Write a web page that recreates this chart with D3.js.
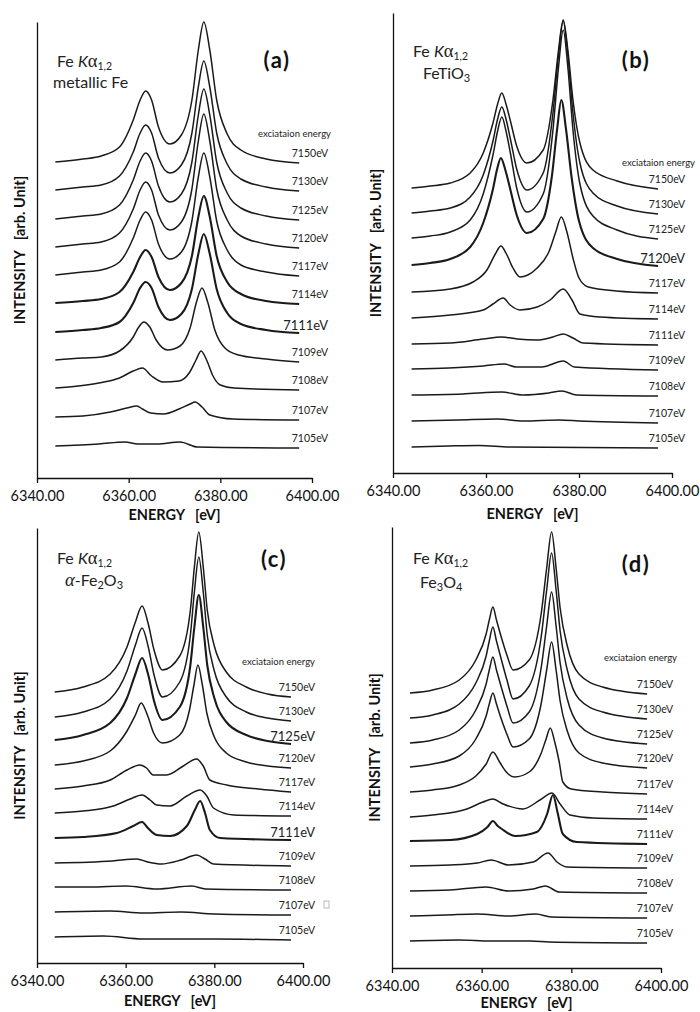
<!DOCTYPE html>
<html>
<head>
<meta charset="utf-8">
<script src="https://cdn.jsdelivr.net/npm/d3@7"></script>
<style>
	body { margin: 0; background: #fff; }
	svg { display: block; font-family: Lato, 'Noto Sans', sans-serif; }
	text { white-space: pre; }
</style>
</head>
<body>
<script>
// Excitation energies, top curve first
const excitation = ['7150eV', '7130eV', '7125eV', '7120eV', '7117eV', '7114eV', '7111eV', '7109eV', '7108eV', '7107eV', '7105eV']

// Emission energy axis
const energyDomain = [6340, 6400]
const energyTicks = [6340, 6360, 6380, 6400]

// Baseline of each curve (arb. units, same order as excitation)
const offsetsA = [316, 288, 259, 231, 203, 175, 146, 118, 90, 61, 32]
const offsetsB = [285, 260, 235, 208, 181, 155, 129, 104, 78, 52, 26]
const offsetsC = [271, 246, 223, 198, 174, 150, 125, 100, 76, 51, 26]
const offsetsD = [275, 250, 225, 201, 176, 151, 127, 102, 77, 52, 27]

// Spectra: [energy eV, intensity above baseline]
// (a) metallic Fe
const spectraA = [
	[[6344,0],[6350,3],[6354,6],[6358,15],[6361,42],[6362.5,62],[6363.7,71],[6365,62],[6366.5,35],[6369,18],[6371.5,27],[6373.8,62],[6375.2,112],[6376.4,140],[6377.7,112],[6379.2,62],[6381.5,28],[6384.5,12],[6390,3],[6397.2,-1]],
	[[6344,0],[6350,3],[6354,5],[6358,14],[6361,38],[6362.5,57],[6363.7,65],[6365,57],[6366.5,32],[6369,17],[6371.5,25],[6373.8,57],[6375.2,103],[6376.4,129],[6377.7,103],[6379.2,57],[6381.5,26],[6384.5,11],[6390,3],[6397.2,-1]],
	[[6344,0],[6350,3],[6354,5],[6358,14],[6361,39],[6362.5,58],[6363.7,66],[6365,58],[6366.5,33],[6369,17],[6371.5,25],[6373.8,57],[6375.2,104],[6376.4,130],[6377.7,104],[6379.2,57],[6381.5,26],[6384.5,11],[6390,3],[6397.2,-1]],
	[[6344,0],[6350,3],[6354,5],[6358,14],[6361,38],[6362.5,57],[6363.7,65],[6365,57],[6366.5,32],[6369,17],[6371.5,25],[6373.8,58],[6375.2,106],[6376.4,133],[6377.7,106],[6379.2,58],[6381.5,27],[6384.5,11],[6390,3],[6397.2,-1]],
	[[6344,0],[6350,3],[6354,5],[6358,13],[6361,37],[6362.5,55],[6363.7,63],[6365,55],[6366.5,31],[6369,16],[6371.5,23],[6373.8,54],[6375.2,98],[6376.4,122],[6377.7,98],[6379.2,54],[6381.5,25],[6384.5,10],[6390,3],[6397.2,-1]],
	[[6344,0],[6350,2],[6354,4],[6358,11],[6361,31],[6362.5,46],[6363.7,53],[6365,46],[6366.5,26],[6369,13],[6371.5,20],[6373.8,47],[6375.2,86],[6376.4,107],[6377.7,86],[6379.2,47],[6381.5,21],[6384.5,9],[6390,2],[6397.2,-1]],
	[[6344,0],[6350,2],[6354,4],[6358,10],[6361,29],[6362.5,44],[6363.7,50],[6365,44],[6366.5,25],[6369,12],[6371.5,18],[6373.8,43],[6375.2,78],[6376.4,98],[6377.7,78],[6379.2,43],[6381.5,19],[6384.5,8],[6390,2],[6397.2,-1]],
	[[6344,0],[6350,2],[6354,3],[6358,9],[6361,23],[6362.2,33],[6363.3,38],[6364.6,33],[6366,20],[6368.5,10],[6371.2,14],[6373.4,32],[6374.8,58],[6376,72],[6377.3,57],[6378.8,30],[6381,12],[6384,5],[6390,1],[6397.2,-2]],
	[[6344,0],[6349,2],[6353.5,5],[6358,10],[6361,17],[6363,20],[6365,12],[6367.5,6],[6371,7],[6373.2,15],[6374.7,28],[6375.8,37],[6377,28],[6378.4,12],[6380,3],[6383,0],[6397.2,-2]],
	[[6344,0],[6350,1],[6356,5],[6359.6,9],[6361.8,11],[6363,8],[6364.8,4],[6367.6,3],[6371,8],[6373.4,13],[6374.5,15],[6376,10],[6377.7,2],[6382.8,-2],[6397.2,-3]],
	[[6344,0],[6353.5,2],[6359.2,4],[6362,2],[6366.2,2],[6371.2,4],[6375,-1],[6397.2,-2]]
]

// (b) FeTiO3
const spectraB = [
	[[6344,0],[6348,2],[6352.3,5],[6356.6,15],[6359.4,35],[6361.5,65],[6362.5,84],[6363.4,95],[6364.3,84],[6365.2,68],[6366.6,42],[6368.8,25],[6372.3,38],[6374.4,88],[6375.6,138],[6376.6,168],[6377.6,138],[6378.7,88],[6380.2,45],[6383,18],[6388.2,7],[6397,-1]],
	[[6344,0],[6348,2],[6352.3,5],[6356.6,16],[6359.4,38],[6361.5,72],[6362.5,94],[6363.4,106],[6364.3,94],[6365.2,75],[6366.6,44],[6368.8,23],[6372.3,40],[6374.4,100],[6375.6,158],[6376.6,192],[6377.6,158],[6378.7,100],[6380.2,50],[6383,20],[6388.2,7],[6397,-1]],
	[[6344,0],[6348,2],[6352.3,6],[6356.6,18],[6359.4,44],[6361.5,83],[6362.5,107],[6363.4,121],[6364.3,107],[6365.2,86],[6366.6,50],[6368.8,26],[6372.3,44],[6374.4,108],[6375.6,171],[6376.6,208],[6377.6,171],[6378.7,108],[6380.2,54],[6383,22],[6388.2,8],[6397,-1]],
	[[6344,0],[6348,2],[6352.3,6],[6356.6,18],[6359.4,42],[6361.5,76],[6362.4,96],[6363.2,107],[6364.1,96],[6365.1,78],[6366.6,50],[6368.8,32],[6372.3,46],[6374.2,90],[6375.3,136],[6376.2,165],[6377.2,136],[6378.4,88],[6380,44],[6383,17],[6388.2,6],[6397,-1]],
	[[6344,0],[6352.3,3],[6357.2,10],[6360.2,22],[6362,38],[6363.2,46],[6364.4,38],[6365.8,24],[6367.3,15],[6369,17],[6371,24],[6373.5,40],[6375,60],[6376.2,75],[6377.4,60],[6378.7,34],[6380,14],[6382,5],[6388,1],[6397,-1]],
	[[6344,0],[6352.3,3],[6359.4,8],[6361.5,14],[6363.7,20],[6365.2,13],[6367.3,8],[6371,11],[6373.8,18],[6376.6,29],[6378.5,18],[6380.2,4],[6384.5,1],[6397,-1]],
	[[6344,0],[6352.3,1],[6359.4,5],[6363.4,7],[6366.7,5],[6371,4],[6374.4,7],[6376.6,10],[6378.7,6],[6380.9,1],[6397,-1]],
	[[6344,0],[6352,1],[6359.4,3],[6363.9,5],[6366.5,2],[6372,2],[6376.6,8],[6379,2],[6397,-1]],
	[[6344,0],[6355,1],[6363.4,3],[6368,0],[6373.5,2],[6376.3,4],[6379.5,0],[6397,-1]],
	[[6344,0],[6354,1],[6362.4,2],[6368,0],[6375.8,1],[6380,0],[6397,-2]],
	[[6344,0],[6352,1],[6358.5,1.5],[6365,0],[6397,-1]]
]

// (c) alpha-Fe2O3
const spectraC = [
	[[6344,0],[6350.4,5],[6356.5,18],[6360.3,45],[6362.2,70],[6363.7,86],[6365.1,68],[6366.4,42],[6368.3,22],[6372.2,36],[6374.6,82],[6375.5,125],[6376.5,160],[6377.5,125],[6378.4,82],[6380,46],[6382.7,20],[6387.2,5],[6392,-2],[6397.3,-5]],
	[[6344,0],[6350.4,5],[6356.5,18],[6360.3,46],[6362.2,72],[6363.7,89],[6365.1,70],[6366.4,42],[6368.3,20],[6372.2,35],[6374.6,82],[6375.5,125],[6376.5,160],[6377.5,125],[6378.4,82],[6380,46],[6382.7,20],[6387.2,5],[6392,-1],[6397.3,-4]],
	[[6344,0],[6350.4,5],[6356.5,17],[6360.3,42],[6362.2,66],[6363.7,82],[6365.1,65],[6366.4,39],[6368.3,20],[6372.2,33],[6374.6,75],[6375.5,113],[6376.5,145],[6377.5,113],[6378.4,75],[6380,42],[6382.7,18],[6387.2,5],[6392,-1],[6397.3,-4]],
	[[6344,0],[6350.4,4],[6356.5,14],[6360.3,34],[6362.2,50],[6363.5,62],[6364.9,50],[6366.3,32],[6368.3,22],[6372.2,30],[6374.4,55],[6375.4,80],[6376.3,100],[6377.3,80],[6378.3,52],[6380,28],[6382.7,12],[6387.2,3],[6392,-1],[6397.3,-3]],
	[[6344,0],[6350.4,3],[6356.5,9],[6360.3,19],[6363.2,24],[6364.7,21],[6366.2,14],[6369.3,14],[6373,23],[6376,30],[6377.5,23],[6379,9],[6382.8,4],[6390,0],[6397.3,-3]],
	[[6344,0],[6350.4,2],[6357.2,7],[6361,14],[6363.7,18],[6365.5,13],[6367,8],[6370,7],[6373.8,17],[6376.8,23],[6378.3,17],[6379.8,5],[6384.4,-2],[6397.3,-3]],
	[[6344,0],[6350.4,1],[6358,5],[6361.7,12],[6363.7,16],[6365,10],[6367,3],[6370,2],[6373.8,12],[6375.6,28],[6376.8,37],[6377.9,25],[6379,8],[6381.3,0],[6397.3,-2]],
	[[6344,0],[6357,2],[6362.5,4],[6365,1],[6368,-1],[6372.5,3],[6376,8],[6377.9,4],[6379.8,-1],[6397.3,-3]],
	[[6344,0],[6352,0],[6360,1],[6367,-2],[6374.9,1],[6378,-2],[6397.3,-3]],
	[[6344,0],[6356.5,1],[6364,-1],[6372.5,0],[6380,-2],[6397.3,-3]],
	[[6344,0],[6355,1],[6364,-2],[6380,-2],[6397.3,-3]]
]

// (d) Fe3O4
const spectraD = [
	[[6344,0],[6349.1,3],[6355,13],[6358.7,33],[6361,59],[6361.7,73],[6362.5,86],[6363.3,73],[6364.3,57],[6365.7,37],[6367,23],[6370.6,33],[6373.3,80],[6374.5,125],[6375.6,161],[6376.6,125],[6377.5,85],[6379.1,47],[6381.7,19],[6387,6],[6396.9,-1]],
	[[6344,0],[6349.1,3],[6355,14],[6358.7,35],[6361,62],[6361.7,77],[6362.5,91],[6363.3,77],[6364.3,60],[6365.7,37],[6367,19],[6370.6,32],[6373.3,82],[6374.5,128],[6375.6,165],[6376.6,128],[6377.5,87],[6379.1,48],[6381.7,19],[6387,6],[6396.9,-1]],
	[[6344,0],[6349.1,3],[6355,13],[6358.7,33],[6361,59],[6361.7,73],[6362.5,86],[6363.3,73],[6364.3,57],[6365.7,36],[6367,20],[6370.6,31],[6373.3,76],[6374.5,117],[6375.6,151],[6376.6,117],[6377.5,80],[6379.1,44],[6381.7,18],[6387,5],[6396.9,-1]],
	[[6344,0],[6349.1,3],[6355,11],[6358.7,28],[6361,51],[6361.7,63],[6362.5,74],[6363.3,63],[6364.3,49],[6365.7,32],[6367,20],[6370.6,28],[6373.3,64],[6374.5,97],[6375.6,125],[6376.6,97],[6377.5,66],[6379.1,36],[6381.7,14],[6387,4],[6396.9,-1]],
	[[6344,0],[6349.1,2],[6355,7],[6358.7,16],[6361,28],[6362.5,40],[6364,30],[6365.5,20],[6367.3,15],[6370.6,20],[6373.2,38],[6374.3,52],[6375.3,64],[6376.3,50],[6377.3,30],[6378.1,10],[6380,3],[6387,0],[6396.9,-2]],
	[[6344,0],[6349,2],[6356.7,8],[6360.3,15],[6362.5,18],[6364.8,13],[6369.2,8],[6373,17],[6375.7,24],[6377.5,13],[6379.7,2],[6385,-1],[6396.9,-2]],
	[[6344,0],[6353,1],[6359,7],[6361.3,14],[6362.5,20],[6363.6,15],[6364.5,12],[6367.5,5],[6372.3,9],[6374.6,27],[6375.9,46],[6377,27],[6378.1,7],[6381.2,-1],[6396.9,-3]],
	[[6344,0],[6353,1],[6359,3],[6362.1,6],[6366,1],[6371.5,4],[6374.8,13],[6376.8,4],[6379,-1],[6396.9,-2]],
	[[6344,0],[6353,1],[6361,4],[6366,0],[6371.5,2],[6374.2,5],[6377.3,-1],[6396.9,-2]],
	[[6344,0],[6352,1],[6359,2],[6366,0],[6372.1,2],[6375.5,-1],[6396.9,-2]],
	[[6344,0],[6355,1],[6362,0],[6371,0],[6375,-1],[6396.9,-2]]
]

// Panel layout
const panels = [
	{ letter: '(a)', left: 37, right: 312, top: 22, bottom: 478, offsets: offsetsA, spectra: spectraA,
		big: [6], thick: [5, 6], labelX: 328, excX: 331, excY: 137, titleX: 57, titleY: 67, energyDy: 42,
		sample: [{ t: 'metallic Fe' }], sampleX: 53, sampleY: 88, letterX: 277, letterY: 68 },
	{ letter: '(b)', left: 393, right: 672, top: 13, bottom: 473, offsets: offsetsB, spectra: spectraB,
		big: [3], thick: [3], labelX: 685, excX: 695, excY: 166, titleX: 413, titleY: 57, energyDy: 46,
		sample: [{ t: 'FeTiO' }, { t: '3', sub: true }], sampleX: 423, sampleY: 79, letterX: 636, letterY: 68 },
	{ letter: '(c)', left: 37, right: 303, top: 528, bottom: 963, offsets: offsetsC, spectra: spectraC,
		big: [2, 6], thick: [2, 6], labelX: 315, excX: 315, excY: 665, titleX: 57, titleY: 564, energyDy: 43,
		sample: [{ t: 'α', greek: true }, { t: '-Fe' }, { t: '2', sub: true }, { t: 'O' }, { t: '3', sub: true }],
		sampleX: 65, sampleY: 586, letterX: 274, letterY: 567, mark: 9 },
	{ letter: '(d)', left: 392, right: 661, top: 527, bottom: 968, offsets: offsetsD, spectra: spectraD,
		big: [], thick: [6], labelX: 673, excX: 677, excY: 661, titleX: 413, titleY: 564, energyDy: 40,
		sample: [{ t: 'Fe' }, { t: '3', sub: true }, { t: 'O' }, { t: '4', sub: true }], sampleX: 420, sampleY: 588,
		letterX: 636, letterY: 572 }
]

const svg = d3.select('body').append('svg').attr('width', 700).attr('height', 1012)

panels.forEach(drawPanel)

function drawPanel(p) {
	const g = svg.append('g')
	const x = d3.scaleLinear().domain(energyDomain).range([p.left, p.right])
	const y = d3.scaleLinear().domain([0, p.bottom - p.top]).range([p.bottom, p.top])

	// x axis
	g.append('g')
		.attr('transform', `translate(0,${p.bottom})`)
		.call(d3.axisBottom(x).tickValues(energyTicks).tickFormat(d3.format('.2f')).tickSizeInner(5).tickSizeOuter(0).tickPadding(8))
		.call(a => a.select('.domain').attr('stroke', '#111').attr('stroke-width', 1.3))
		.call(a => a.selectAll('line').attr('stroke', '#111').attr('stroke-width', 1.3))
		.call(a => a.selectAll('text').attr('font-size', 14.5).attr('font-family', 'Lato').attr('fill', '#111'))

	// y axis, line only
	g.append('g')
		.attr('transform', `translate(${p.left},0)`)
		.call(d3.axisLeft(y).tickValues([]).tickSizeOuter(0))
		.call(a => a.select('.domain').attr('stroke', '#111').attr('stroke-width', 1.3))

	// axis titles
	g.append('text')
		.attr('x', (p.left + p.right) / 2)
		.attr('y', p.bottom + p.energyDy)
		.attr('text-anchor', 'middle')
		.attr('font-size', 14.5)
		.attr('font-weight', 'bold')
		.attr('fill', '#111')
		.text('ENERGY   [eV]')
	g.append('text')
		.attr('transform', `translate(${p.left - 17},${(p.top + p.bottom) / 2}) rotate(-90)`)
		.attr('dy', '0.35em')
		.attr('text-anchor', 'middle')
		.attr('font-size', 14.5)
		.attr('font-weight', 'bold')
		.attr('fill', '#111')
		.text('INTENSITY   [arb. Unit]')

	// spectra
	const line = off => d3.line()
		.x(d => x(d[0]))
		.y(d => y(off + d[1]))
		.curve(d3.curveMonotoneX)
	g.selectAll('path.spec')
		.data(p.spectra)
		.join('path')
		.attr('class', 'spec')
		.attr('fill', 'none')
		.attr('stroke', '#1a1a1a')
		.attr('stroke-width', (d, i) => (p.thick.includes(i) ? 2.1 : 1.5))
		.attr('stroke-linejoin', 'round')
		.attr('d', (d, i) => line(p.offsets[i])(d))

	// excitation energy labels
	g.selectAll('text.exc')
		.data(excitation)
		.join('text')
		.attr('class', 'exc')
		.attr('x', p.labelX)
		.attr('y', (d, i) => y(p.offsets[i] + p.spectra[i][p.spectra[i].length - 1][1]) - (p.big.includes(i) ? 3 : 6))
		.attr('text-anchor', 'end')
		.attr('font-size', (d, i) => (p.big.includes(i) ? 13 : 10.5))
		.attr('fill', '#222')
		.text(d => d)

	if (p.mark !== undefined) {
		const i = p.mark
		const yy = y(p.offsets[i] + p.spectra[i][p.spectra[i].length - 1][1]) - 6
		g.append('rect')
			.attr('x', p.labelX + 9).attr('y', yy - 8)
			.attr('width', 5).attr('height', 7)
			.attr('fill', 'none').attr('stroke', '#aaa').attr('stroke-width', 0.8)
	}

	g.append('text')
		.attr('x', p.excX)
		.attr('y', p.excY)
		.attr('text-anchor', 'end')
		.attr('font-size', 9.5)
		.attr('fill', '#222')
		.text('exciataion energy')

	// Fe K alpha 1,2
	const t = g.append('text').attr('x', p.titleX).attr('y', p.titleY).attr('font-size', 16).attr('fill', '#222')
	t.append('tspan').text('Fe ')
	t.append('tspan').attr('font-style', 'italic').text('K')
	t.append('tspan').attr('font-family', 'Liberation Serif').attr('font-size', 18.5).text('α')
	t.append('tspan').attr('font-size', 10.5).attr('dy', 3).text('1,2')

	// sample name
	const s = g.append('text').attr('x', p.sampleX).attr('y', p.sampleY).attr('font-size', 16).attr('fill', '#222')
	let down = false
	p.sample.forEach(part => {
		const ts = s.append('tspan').text(part.t)
		if (part.sub) {
			ts.attr('font-size', 11).attr('dy', 3)
			down = true
		} else {
			if (down) ts.attr('dy', -3)
			down = false
		}
		if (part.greek) ts.attr('font-family', 'Liberation Serif').attr('font-style', 'italic').attr('font-size', 18.5)
	})

	// panel letter
	g.append('text')
		.attr('x', p.letterX)
		.attr('y', p.letterY)
		.attr('text-anchor', 'middle')
		.attr('font-size', 22)
		.attr('font-weight', 'bold')
		.attr('letter-spacing', 1.5)
		.attr('fill', '#111')
		.text(p.letter)
}
</script>
</body>
</html>
